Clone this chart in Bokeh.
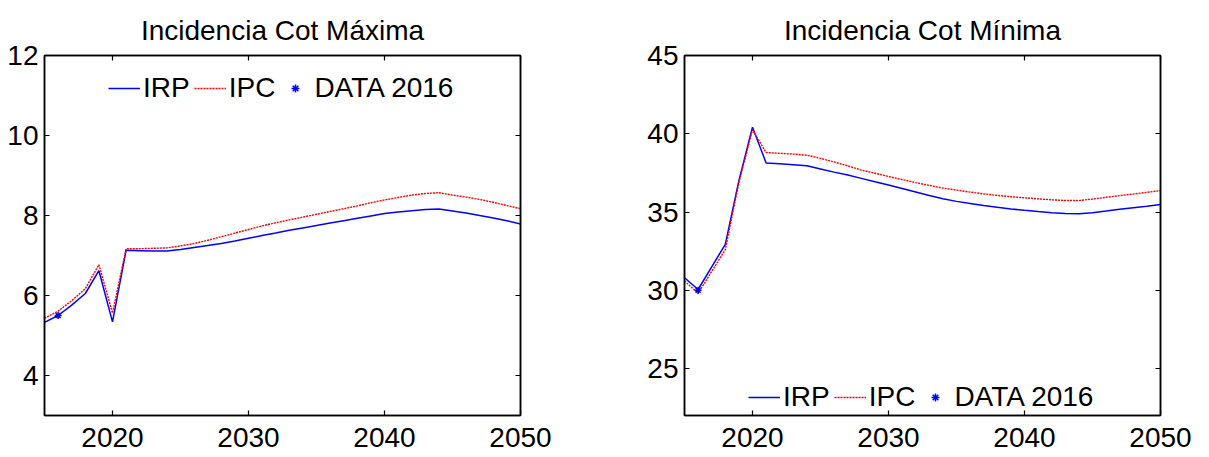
from bokeh.plotting import figure
from bokeh.layouts import row
from bokeh.models import (LinearAxis, FixedTicker, Range1d, Legend, LegendItem,
                          CustomJSTickFormatter)
from bokeh.embed import file_html
from bokeh.resources import INLINE

# ---- data -------------------------------------------------------------
years = list(range(2015, 2051))

max_irp = [5.33, 5.50, 5.76, 6.05, 6.62, 5.34, 7.13, 7.12, 7.11, 7.11,
           7.15, 7.20, 7.25, 7.30, 7.36, 7.43, 7.50, 7.56, 7.63, 7.69,
           7.75, 7.81, 7.87, 7.93, 7.99, 8.05, 8.09, 8.12, 8.15, 8.16,
           8.11, 8.06, 8.00, 7.94, 7.87, 7.79]
max_ipc = [5.43, 5.61, 5.87, 6.17, 6.77, 5.56, 7.17, 7.17, 7.18, 7.19,
           7.24, 7.30, 7.38, 7.47, 7.56, 7.65, 7.74, 7.82, 7.89, 7.96,
           8.03, 8.10, 8.17, 8.24, 8.32, 8.39, 8.45, 8.51, 8.55, 8.57,
           8.51, 8.46, 8.40, 8.33, 8.25, 8.17]

min_irp = [30.80, 30.05, 31.50, 32.93, 37.00, 40.42, 38.13, 38.08, 38.02, 37.95,
           37.75, 37.55, 37.36, 37.15, 36.93, 36.72, 36.50, 36.28, 36.05, 35.85,
           35.68, 35.55, 35.42, 35.30, 35.20, 35.11, 35.03, 34.96, 34.91, 34.89,
           34.96, 35.06, 35.17, 35.27, 35.37, 35.48]
min_ipc = [30.60, 29.80, 31.20, 32.60, 36.90, 40.25, 38.80, 38.75, 38.70, 38.63,
           38.43, 38.20, 37.95, 37.68, 37.48, 37.27, 37.07, 36.88, 36.70, 36.53,
           36.40, 36.27, 36.16, 36.06, 35.98, 35.91, 35.84, 35.78, 35.74, 35.73,
           35.83, 35.94, 36.05, 36.15, 36.26, 36.37]

data_year = [2016]
max_data = [5.50]
min_data = [30.0]

x_ticks = [2020, 2030, 2040, 2050]
max_y_ticks = [4, 6, 8, 10, 12]
min_y_ticks = [25, 30, 35, 40, 45]

series_names = ["IRP", "IPC", "DATA 2016"]

FONT = "Liberation Sans"
FS = "28px"


def style_axis(ax, show_labels, standoff):
    ax.axis_line_color = "black"
    ax.axis_line_width = 1.5
    ax.major_tick_line_color = "black"
    ax.major_tick_line_width = 1.2
    ax.major_tick_in = 5
    ax.major_tick_out = 0
    ax.minor_tick_line_color = None
    ax.major_label_standoff = standoff
    if show_labels:
        ax.major_label_text_font = FONT
        ax.major_label_text_font_size = FS
        ax.major_label_text_color = "black"
    else:
        # box edge with inward ticks only, no numbers
        ax.formatter = CustomJSTickFormatter(code="return ''")


def make_panel(title, irp, ipc, point, y_lo, y_hi, y_ticks, width,
               border_left, border_right, legend_y):
    p = figure(width=width, height=457,
               x_range=Range1d(2015, 2050), y_range=Range1d(y_lo, y_hi),
               output_backend="svg", toolbar_location=None,
               min_border_left=border_left, min_border_right=border_right,
               min_border_top=55, min_border_bottom=42)
    p.background_fill_color = "white"
    p.border_fill_color = "white"
    p.outline_line_color = "black"
    p.outline_line_width = 1.5
    p.grid.visible = False

    p.title.text = title
    p.title.text_font = FONT
    p.title.text_font_size = FS
    p.title.text_font_style = "normal"
    p.title.align = "center"
    p.title.text_color = "black"
    p.title.standoff = 20

    p.xaxis.ticker = FixedTicker(ticks=x_ticks)
    p.yaxis.ticker = FixedTicker(ticks=y_ticks)
    style_axis(p.xaxis[0], True, 12)
    style_axis(p.yaxis[0], True, 6)

    top = LinearAxis(ticker=FixedTicker(ticks=x_ticks))
    style_axis(top, False, 0)
    p.add_layout(top, "above")
    right = LinearAxis(ticker=FixedTicker(ticks=y_ticks))
    style_axis(right, False, 0)
    p.add_layout(right, "right")

    r_irp = p.line(years, irp, line_color="#0000ff", line_width=1.5)
    r_ipc = p.line(years, ipc, line_color="#ff0000", line_width=1.4,
                   line_dash="2 1")
    r_pt = p.scatter(data_year, point, marker="asterisk", size=7,
                     line_color="#0000ff", line_width=1.5)

    legend = Legend(items=[LegendItem(label=series_names[0], renderers=[r_irp]),
                           LegendItem(label=series_names[1], renderers=[r_ipc]),
                           LegendItem(label=series_names[2], renderers=[r_pt])],
                    orientation="horizontal", location=(64, legend_y),
                    border_line_alpha=0, background_fill_alpha=0,
                    padding=0, margin=0, spacing=4,
                    glyph_width=32, glyph_height=20, label_standoff=3,
                    label_text_font=FONT, label_text_font_size=FS,
                    label_text_color="black")
    p.add_layout(legend)
    return p


p_max = make_panel("Incidencia Cot Máxima", max_irp, max_ipc, max_data,
                   3, 12, max_y_ticks, 604, 44, 84, 311)
p_min = make_panel("Incidencia Cot Mínima", min_irp, min_ipc, min_data,
                   22, 45, min_y_ticks, 605, 80, 49, 2)

layout = row(p_max, p_min)
open("out.html", "w").write(file_html(layout, INLINE))
